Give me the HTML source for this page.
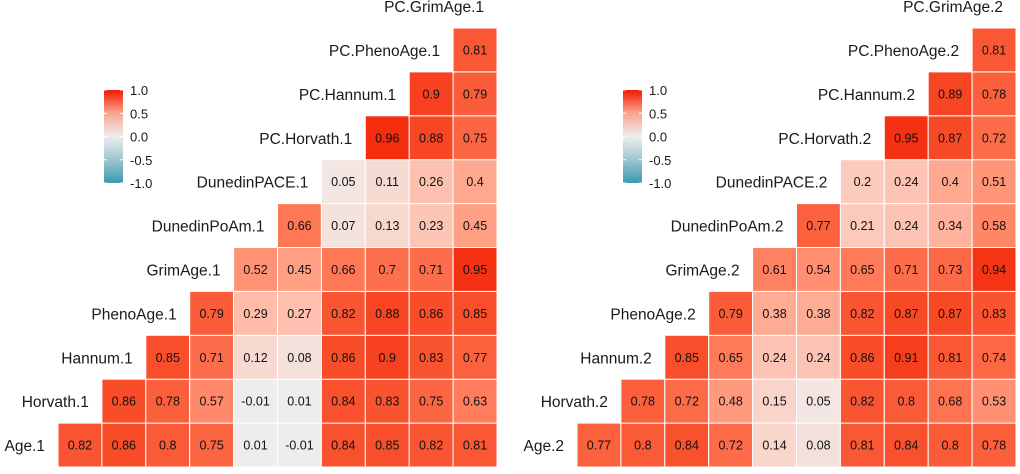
<!DOCTYPE html>
<html><head><meta charset="utf-8"><style>
body{margin:0;background:#fff;width:1020px;height:469px;overflow:hidden;font-family:"Liberation Sans",sans-serif}
</style></head><body>
<svg id="chart" width="1020" height="469" xmlns="http://www.w3.org/2000/svg">
<defs><linearGradient id="cbg" x1="0" y1="1" x2="0" y2="0">
<stop offset="0" stop-color="#3B9AB2"/><stop offset="0.25" stop-color="#9EC5D0"/><stop offset="0.5" stop-color="#EEEEEE"/><stop offset="0.75" stop-color="#F9A58F"/><stop offset="1" stop-color="#F21A00"/></linearGradient></defs>
</svg>
<script>
const varsA = ["Age","Horvath","Hannum","PhenoAge","GrimAge","DunedinPoAm","DunedinPACE","PC.Horvath","PC.Hannum","PC.PhenoAge","PC.GrimAge"];
const valuesLeft = [
 [0.82,0.86,0.8,0.75,0.01,-0.01,0.84,0.85,0.82,0.81],
 [0.86,0.78,0.57,-0.01,0.01,0.84,0.83,0.75,0.63],
 [0.85,0.71,0.12,0.08,0.86,0.9,0.83,0.77],
 [0.79,0.29,0.27,0.82,0.88,0.86,0.85],
 [0.52,0.45,0.66,0.7,0.71,0.95],
 [0.66,0.07,0.13,0.23,0.45],
 [0.05,0.11,0.26,0.4],
 [0.96,0.88,0.75],
 [0.9,0.79],
 [0.81]
];
const valuesRight = [
 [0.77,0.8,0.84,0.72,0.14,0.08,0.81,0.84,0.8,0.78],
 [0.78,0.72,0.48,0.15,0.05,0.82,0.8,0.68,0.53],
 [0.85,0.65,0.24,0.24,0.86,0.91,0.81,0.74],
 [0.79,0.38,0.38,0.82,0.87,0.87,0.83],
 [0.61,0.54,0.65,0.71,0.73,0.94],
 [0.77,0.21,0.24,0.34,0.58],
 [0.2,0.24,0.4,0.51],
 [0.95,0.87,0.72],
 [0.89,0.78],
 [0.81]
];
const legendTicks = [1.0,0.5,0.0,-0.5,-1.0];
const NS="http://www.w3.org/2000/svg";
const svg=document.getElementById('chart');
function mk(t,a,p){const e=document.createElementNS(NS,t);for(const k in a)e.setAttribute(k,a[k]);(p||svg).appendChild(e);return e;}
function toLin(c){c/=255;return c<=0.04045?c/12.92:Math.pow((c+0.055)/1.055,2.4);}
function fromLin(c){c=c<=0.0031308?12.92*c:1.055*Math.pow(c,1/2.4)-0.055;return Math.max(0,Math.min(255,Math.round(c*255)));}
function rgb2lab(c){const [r,g,b]=c.map(toLin);
 let x=(0.4124*r+0.3576*g+0.1805*b)/0.95047,y=0.2126*r+0.7152*g+0.0722*b,z=(0.0193*r+0.1192*g+0.9505*b)/1.08883;
 const f=t=>t>0.008856?Math.cbrt(t):7.787*t+16/116;
 const fx=f(x),fy=f(y),fz=f(z);return [116*fy-16,500*(fx-fy),200*(fy-fz)];}
function lab2rgb(l){const fy=(l[0]+16)/116,fx=fy+l[1]/500,fz=fy-l[2]/200;
 const fi=t=>t*t*t>0.008856?t*t*t:(t-16/116)/7.787;
 const x=fi(fx)*0.95047,y=fi(fy),z=fi(fz)*1.08883;
 const r=3.2406*x-1.5372*y-0.4986*z,g=-0.9689*x+1.8758*y+0.0415*z,b=0.0557*x-0.2040*y+1.0570*z;
 return [r,g,b].map(fromLin);}
const LO=rgb2lab([59,154,178]),MID=rgb2lab([238,238,238]),HI=rgb2lab([242,26,0]);
function color(v){const a=MID,b=v>=0?HI:LO,t=Math.abs(v);
 const c=lab2rgb(a.map((x,i)=>x+(b[i]-x)*t));return `rgb(${c[0]},${c[1]},${c[2]})`;}
function panel(x0,suffix,vals,cbx,name){
 const g=mk('g',{});
 
 
 const cw=43.9,bottom=467;
 const xs=c=>x0+c*cw, ys=r=>bottom-(r+1)*cw;
 vals.forEach((row,r)=>{
  row.forEach((v,k)=>{const c=r+k;
   const rc=mk('rect',{x:xs(c),y:ys(r),width:cw,height:cw,fill:color(v),stroke:'#fff','stroke-width':1},g);
   
   
   const t=mk('text',{x:xs(c)+cw/2,y:ys(r)+cw/2+4.5,'text-anchor':'middle','font-size':12.5,fill:'#111'},g);
   t.textContent=String(v);
   
   
  });
 });
 varsA.forEach((n,r)=>{
  const t=mk('text',{x:xs(r)-13,y:ys(r)+cw/2+6,'text-anchor':'end','font-size':15.5,fill:'#1a1a1a'},g);
  t.textContent=n+suffix;
  
  
 });
 const cb=mk('rect',{x:cbx,y:90,width:19,height:93,fill:'url(#cbg)'},g);
 
 
 legendTicks.forEach(v=>{const y=136.5-v*46.5;
  mk('line',{x1:cbx,x2:cbx+3,y1:y,y2:y,stroke:'#fff'},g);mk('line',{x1:cbx+16,x2:cbx+19,y1:y,y2:y,stroke:'#fff'},g);
  const t=mk('text',{x:cbx+26,y:y+5,'font-size':13,fill:'#1a1a1a'},g);t.textContent=v.toFixed(1);
  
  
 });
}
panel(58,'.1',valuesLeft,104,'left-heatmap');
panel(577,'.2',valuesRight,623,'right-heatmap');
</script>
</body></html>
